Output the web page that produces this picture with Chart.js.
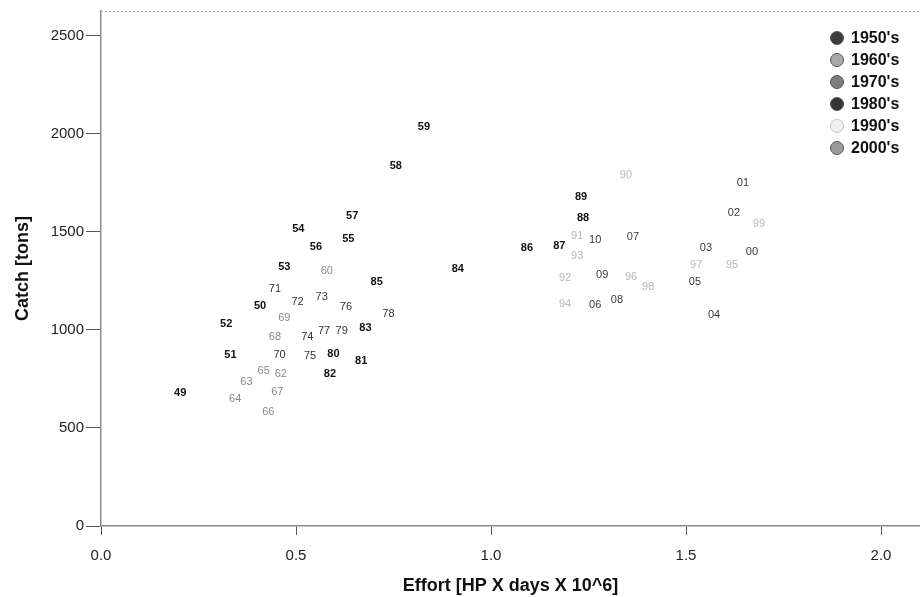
<!DOCTYPE html>
<html>
<head>
<meta charset="utf-8">
<script src="https://cdn.jsdelivr.net/npm/chart.js@4"></script>
<style>
  html, body { margin: 0; padding: 0; background: #fff; }
  #wrap { width: 920px; height: 597px; }
</style>
</head>
<body>
<div id="wrap"><canvas id="chart"></canvas></div>
<script>
// --- Data (effort in HP x days x 10^6, catch in tons) ---
const decades = ["1950's", "1960's", "1970's", "1980's", "1990's", "2000's"];

const years50 = ['49', '50', '51', '52', '53', '54', '55', '56', '57', '58', '59'];
const effort50 = [0.203, 0.408, 0.332, 0.321, 0.470, 0.506, 0.634, 0.551, 0.644, 0.756, 0.828];
const catch50 = [677, 1120, 870, 1028, 1318, 1512, 1461, 1420, 1578, 1837, 2036];

const years60 = ['60', '62', '63', '64', '65', '66', '67', '68', '69'];
const effort60 = [0.579, 0.461, 0.373, 0.344, 0.417, 0.429, 0.452, 0.446, 0.470];
const catch60 = [1298, 774, 733, 646, 789, 580, 682, 962, 1059];

const years70 = ['70', '71', '72', '73', '74', '75', '76', '77', '78', '79'];
const effort70 = [0.458, 0.446, 0.504, 0.566, 0.529, 0.536, 0.628, 0.572, 0.737, 0.617];
const catch70 = [870, 1206, 1140, 1166, 962, 865, 1115, 993, 1079, 993];

const years80 = ['80', '81', '82', '83', '84', '85', '86', '87', '88', '89'];
const effort80 = [0.596, 0.667, 0.587, 0.678, 0.915, 0.707, 1.092, 1.175, 1.236, 1.231];
const catch80 = [875, 840, 774, 1008, 1308, 1242, 1415, 1425, 1568, 1675];

const years90 = ['90', '91', '92', '93', '94', '95', '96', '97', '98', '99'];
const effort90 = [1.346, 1.221, 1.190, 1.221, 1.190, 1.618, 1.359, 1.526, 1.403, 1.687];
const catch90 = [1787, 1476, 1262, 1374, 1130, 1328, 1267, 1328, 1217, 1542];

const years00 = ['00', '01', '02', '03', '04', '05', '06', '07', '08', '09', '10'];
const effort00 = [1.669, 1.646, 1.623, 1.551, 1.572, 1.523, 1.267, 1.364, 1.323, 1.285, 1.267];
const catch00 = [1395, 1746, 1598, 1415, 1074, 1242, 1125, 1471, 1150, 1278, 1456];

const xTicks = [0.0, 0.5, 1.0, 1.5, 2.0];
const yTicks = [0, 500, 1000, 1500, 2000, 2500];

// label styling per decade
const textColors = ['#111', '#8a8a8a', '#333', '#111', '#b8b8b8', '#3a3a3a'];
const textWeights = ['bold', 'normal', 'normal', 'bold', 'normal', 'normal'];
const dotColors = ['#3c3c3c', '#a9a9a9', '#7d7d7d', '#353535', '#f0f0f0', '#9a9a9a'];

const groups = [
  [years50, effort50, catch50],
  [years60, effort60, catch60],
  [years70, effort70, catch70],
  [years80, effort80, catch80],
  [years90, effort90, catch90],
  [years00, effort00, catch00],
];

const datasets = groups.map((g, i) => ({
  label: decades[i],
  data: g[1].map((x, j) => ({ x: x, y: g[2][j] })),
  years: g[0],
  pointRadius: 0,
  backgroundColor: dotColors[i],
}));

// draws the two-digit year at each point, plus legend and top border
const yearLabels = {
  id: 'yearLabels',
  afterDatasetsDraw(chart) {
    const ctx = chart.ctx;
    ctx.save();
    ctx.textAlign = 'center';
    ctx.textBaseline = 'middle';
    chart.data.datasets.forEach((ds, i) => {
      const meta = chart.getDatasetMeta(i);
      ctx.fillStyle = textColors[i];
      ctx.font = textWeights[i] + ' 11px "Liberation Sans", Arial, sans-serif';
      meta.data.forEach((pt, j) => {
        ctx.fillText(ds.years[j], pt.x, pt.y);
      });
    });

    // dotted top border
    const a = chart.chartArea;
    ctx.strokeStyle = '#b5b5b5';
    ctx.lineWidth = 1;
    ctx.setLineDash([2, 2]);
    ctx.beginPath();
    ctx.moveTo(a.left, a.top + 0.5);
    ctx.lineTo(a.right, a.top + 0.5);
    ctx.stroke();
    ctx.setLineDash([]);

    // legend
    ctx.textAlign = 'left';
    ctx.font = 'bold 16px "Liberation Sans", Arial, sans-serif';
    chart.data.datasets.forEach((ds, i) => {
      const cy = 38 + i * 22;
      ctx.beginPath();
      ctx.arc(837, cy, 6.5, 0, Math.PI * 2);
      ctx.fillStyle = dotColors[i];
      ctx.fill();
      ctx.strokeStyle = i === 4 ? '#c4c4c4' : '#555';
      ctx.lineWidth = 1;
      ctx.stroke();
      ctx.fillStyle = '#111';
      ctx.fillText(ds.label, 851, cy + 1);
    });
    ctx.restore();
  }
};

new Chart(document.getElementById('chart'), {
  type: 'scatter',
  data: { datasets: datasets },
  plugins: [yearLabels],
  options: {
    responsive: true,
    maintainAspectRatio: false,
    animation: false,
    layout: { padding: { top: 6, right: 0, left: 12, bottom: 0 } },
    plugins: {
      legend: { display: false },
      tooltip: { enabled: false },
    },
    scales: {
      x: {
        type: 'linear',
        min: 0,
        max: 2.1,
        afterBuildTicks: (scale) => { scale.ticks = xTicks.map(v => ({ value: v })); },
        afterFit: (scale) => { scale.height = 71; },
        grid: { drawOnChartArea: false, drawTicks: true, tickLength: 9, color: '#555' },
        border: { color: '#8a8a8a', width: 1.5 },
        ticks: {
          color: '#222',
          padding: 12,
          font: { family: '"Liberation Sans", Arial, sans-serif', size: 15 },
          callback: (v) => Number(v).toFixed(1),
        },
        title: {
          display: true,
          text: 'Effort [HP X days X 10^6]',
          color: '#111',
          padding: { top: 0, bottom: 0 },
          font: { family: '"Liberation Sans", Arial, sans-serif', size: 18, weight: 'bold' },
        },
      },
      y: {
        min: 0,
        max: 2625,
        afterBuildTicks: (scale) => { scale.ticks = yTicks.map(v => ({ value: v })); },
        afterFit: (scale) => { scale.width = 89; },
        grid: { drawOnChartArea: false, drawTicks: true, tickLength: 15, color: '#555' },
        border: { color: '#8a8a8a', width: 1.5 },
        ticks: {
          color: '#222',
          padding: 2,
          font: { family: '"Liberation Sans", Arial, sans-serif', size: 15 },
          callback: (v) => String(v),
        },
        title: {
          display: true,
          text: 'Catch [tons]',
          color: '#111',
          padding: { top: 0, bottom: 4 },
          font: { family: '"Liberation Sans", Arial, sans-serif', size: 18, weight: 'bold' },
        },
      },
    },
  },
});
</script>
</body>
</html>
